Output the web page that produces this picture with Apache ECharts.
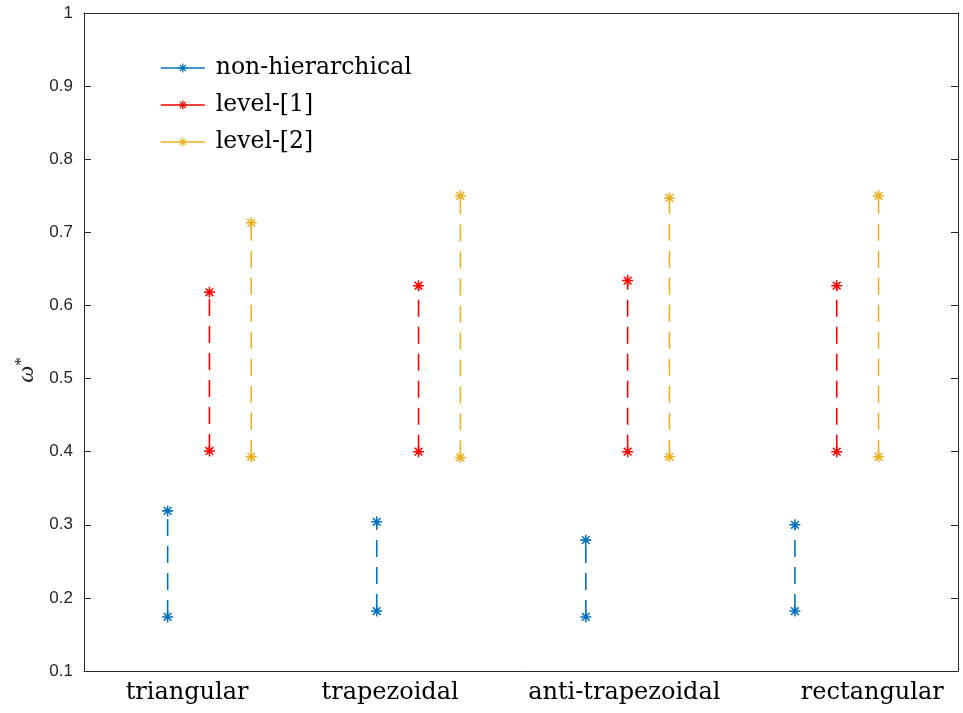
<!DOCTYPE html>
<html>
<head>
<meta charset="utf-8">
<script src="https://cdn.jsdelivr.net/npm/echarts@6/dist/echarts.min.js"></script>
<style>html,body{margin:0;padding:0;background:#fff;}#c{width:963px;height:713px;}</style>
</head>
<body>
<div id="c"></div>
<script>
// categories and tick labels
var categories = ['triangular', 'trapezoidal', 'anti-trapezoidal', 'rectangular'];
var categoryLabelAt = [0.893, 1.864, 2.984, 4.170]; // x positions (data units) of the category tick labels
var seriesNames = ['non-hierarchical', 'level-[1]', 'level-[2]'];
var seriesOffsets = [-0.2, 0, 0.2];
// lower / upper values per category
var nonHierLow  = [0.174, 0.182, 0.174, 0.182];
var nonHierHigh = [0.319, 0.304, 0.279, 0.300];
var level1Low   = [0.401, 0.400, 0.400, 0.400];
var level1High  = [0.618, 0.627, 0.634, 0.627];
var level2Low   = [0.393, 0.392, 0.393, 0.393];
var level2High  = [0.713, 0.750, 0.747, 0.750];
var yTicks = [0.1, 0.2, 0.3, 0.4, 0.5, 0.6, 0.7, 0.8, 0.9, 1];

var colors = ['#0072BD', '#FF0000', '#EDB120'];
var lows = [nonHierLow, level1Low, level2Low];
var highs = [nonHierHigh, level1High, level2High];

var star = 'path://M-1.4,-10L1.4,-10L1.4,10L-1.4,10Z M-10,-1.4L10,-1.4L10,1.4L-10,1.4Z M-8,-6L-6,-8L8,6L6,8Z M6,-8L8,-6L-6,8L-8,6Z';

var series = [];
for (var s = 0; s < seriesNames.length; s++) {
  for (var c = 0; c < categories.length; c++) {
    var x = c + 1 + seriesOffsets[s];
    series.push({
      name: seriesNames[s],
      type: 'line',
      data: [[x, lows[s][c]], [x, highs[s][c]]],
      symbol: star,
      symbolSize: 11,
      showSymbol: true,
      itemStyle: { color: colors[s] },
      lineStyle: { color: colors[s], width: 1.6, type: [17, 10] },
      emphasis: { disabled: true },
      animation: false,
      z: 3
    });
  }
}

var serif = '"DejaVu Serif", "Liberation Serif", serif';
var sans = '"Liberation Sans", Arial, sans-serif';

var chart = echarts.init(document.getElementById('c'), null, { renderer: 'canvas' });
chart.setOption({
  backgroundColor: '#fff',
  animation: false,
  color: colors,
  grid: { left: 84, right: 5, top: 13, bottom: 42, containLabel: false },
  legend: {
    data: seriesNames.map(function (n, i) {
      return {
        name: n,
        itemStyle: { color: colors[i] },
        lineStyle: { color: colors[i], width: 1.6, type: 'solid' }
      };
    }),
    orient: 'vertical',
    left: 155,
    top: 51,
    itemWidth: 44,
    itemHeight: 11,
    itemGap: 13,
    selectedMode: false,
    textStyle: { fontFamily: serif, fontSize: 23.5, color: '#000', padding: [0, 0, 0, 6] }
  },
  xAxis: [{
    type: 'value',
    min: 0.4,
    max: 4.58,
    position: 'bottom',
    axisLine: { show: true, onZero: false, lineStyle: { color: '#262626', width: 1 } },
    axisTick: { show: false },
    splitLine: { show: false },
    axisLabel: {
      customValues: categoryLabelAt,
      formatter: function (v) {
        for (var i = 0; i < categoryLabelAt.length; i++) {
          if (Math.abs(categoryLabelAt[i] - v) < 1e-6) return categories[i];
        }
        return '';
      },
      fontFamily: serif,
      fontSize: 24,
      color: '#000',
      margin: 10
    }
  }, {
    type: 'value',
    min: 0.4,
    max: 4.58,
    position: 'top',
    axisLine: { show: true, onZero: false, lineStyle: { color: '#262626', width: 1 } },
    axisTick: { show: false },
    axisLabel: { show: false },
    splitLine: { show: false }
  }],
  yAxis: [{
    type: 'value',
    min: 0.1,
    max: 1,
    interval: 0.1,
    position: 'left',
    name: '{w|ω}{s|*}',
    nameLocation: 'middle',
    nameRotate: 90,
    nameGap: 40,
    nameTextStyle: {
      padding: [0, 56, 0, 0],
      rich: {
        w: { fontFamily: '"Liberation Serif", serif', fontStyle: 'italic', fontSize: 24, color: '#262626' },
        s: { fontFamily: '"Liberation Serif", serif', fontSize: 17, color: '#262626', verticalAlign: 'top', padding: [0, 0, 10, 0] }
      }
    },
    axisLine: { show: true, onZero: false, lineStyle: { color: '#262626', width: 1 } },
    axisTick: { show: true, inside: true, length: 7, lineStyle: { color: '#262626' } },
    splitLine: { show: false },
    axisLabel: {
      fontFamily: sans,
      fontSize: 17,
      color: '#262626',
      margin: 11,
      formatter: function (v) {
        var r = Math.round(v * 10) / 10;
        return r === 1 ? '1' : r.toFixed(1);
      }
    }
  }, {
    type: 'value',
    min: 0.1,
    max: 1,
    interval: 0.1,
    position: 'right',
    axisLine: { show: true, onZero: false, lineStyle: { color: '#262626', width: 1 } },
    axisTick: { show: true, inside: true, length: 7, lineStyle: { color: '#262626' } },
    splitLine: { show: false },
    axisLabel: { show: false }
  }],
  series: series
});
</script>
</body>
</html>
